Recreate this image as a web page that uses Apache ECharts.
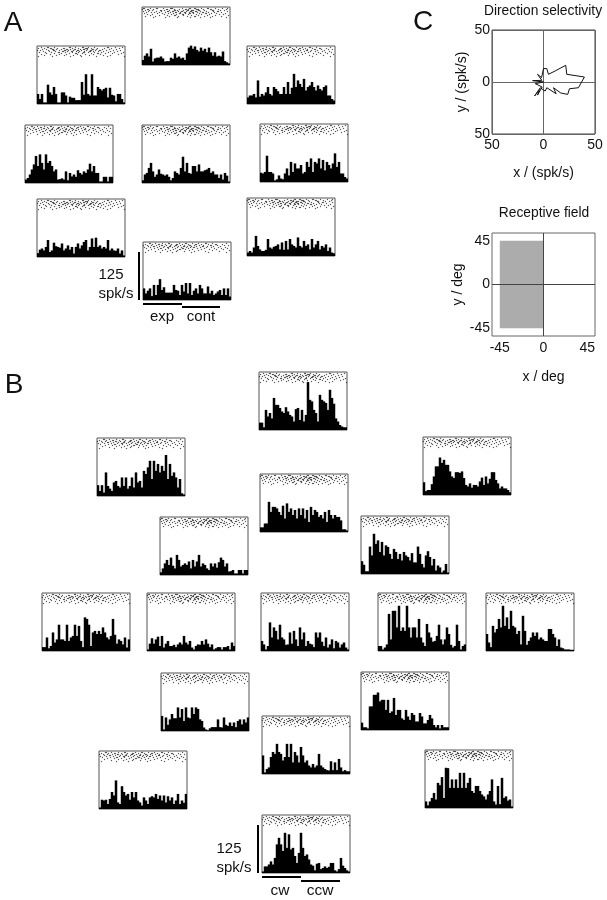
<!DOCTYPE html>
<html><head><meta charset="utf-8">
<script src="https://cdn.jsdelivr.net/npm/echarts@6/dist/echarts.min.js"></script>
<style>html,body{margin:0;background:#fff}#c{width:607px;height:900px}</style></head>
<body><div id="c"></div>
<script>
// PSTH bin values in spk/s, 44 bins per panel.
const aTop=[13,24,30,22,42,9,17,19,19,22,17,9,10,10,19,16,30,19,22,17,19,13,30,45,50,42,48,39,35,45,37,42,33,45,33,24,33,22,24,22,35,10,7,4];
const aUpL=[26,13,26,4,4,50,30,24,44,26,4,4,30,30,22,4,19,16,16,10,10,10,57,24,77,26,22,77,22,22,44,39,35,39,42,17,42,24,22,7,26,26,13,4];
const aUpR=[17,22,22,26,17,61,19,26,22,30,44,26,22,44,39,33,26,26,44,26,57,26,42,78,44,61,52,44,65,35,44,48,57,44,35,48,39,35,44,48,22,22,13,9];
const aMidL=[9,13,22,35,48,70,44,74,52,35,74,52,57,44,30,35,9,10,12,9,30,7,26,17,22,16,33,26,22,30,26,35,50,30,44,26,26,4,4,16,16,4,16,16];
const aMidC=[7,22,26,39,52,30,16,22,35,24,22,19,22,16,7,13,30,26,22,39,68,30,52,26,24,44,44,30,48,30,30,33,35,39,26,30,22,22,13,22,9,26,19,4];
const aMidR=[24,22,26,68,26,26,22,4,7,17,9,7,22,35,17,52,26,48,35,35,44,22,26,52,39,61,26,52,48,61,35,57,30,52,44,35,48,74,39,52,22,22,13,9];
const aLowL=[10,19,22,17,26,44,13,17,37,28,26,24,35,17,22,30,19,26,9,26,35,22,30,39,44,17,26,48,26,50,26,30,22,26,22,44,17,22,17,16,22,9,17,4];
const aLowR=[9,13,9,22,52,26,17,13,13,16,44,22,19,24,26,30,17,35,16,39,17,44,30,26,22,48,26,22,39,26,30,17,44,22,30,39,17,26,22,30,13,22,9,7];
const aBot=[30,17,24,30,10,39,13,39,54,26,33,19,19,19,19,39,26,24,13,39,22,44,17,44,13,24,30,17,39,30,17,17,35,17,24,13,17,22,26,13,30,13,30,9];
const bTop=[19,19,7,52,35,44,30,83,65,65,57,48,44,59,48,39,35,22,54,57,26,52,22,39,124,78,74,52,44,22,91,78,74,70,52,104,83,68,30,22,13,9,7,7];
const bUpL=[28,13,28,9,61,26,19,13,35,39,26,22,48,26,48,19,26,48,22,61,35,39,22,65,57,74,91,44,91,65,83,61,78,65,106,44,83,52,61,48,22,44,7,4];
const bUpC=[12,12,22,22,78,52,65,65,61,52,44,68,35,74,52,61,44,57,35,61,44,61,35,57,26,65,44,57,52,39,44,35,52,26,57,44,35,44,39,39,30,7,7,4];
const bInL=[7,17,30,39,26,45,24,17,52,39,22,26,30,26,35,17,39,22,35,52,22,30,26,17,13,30,22,30,19,33,45,39,22,30,9,10,13,4,4,13,13,4,13,13];
const bUpR=[33,10,13,13,28,48,74,74,97,83,91,78,78,61,48,44,59,59,57,61,44,26,22,30,19,26,26,22,35,45,26,48,30,42,59,59,39,30,17,22,17,17,13,7];
const bInR=[33,24,7,7,71,48,104,78,87,57,83,48,74,70,52,39,65,57,39,52,35,57,48,44,35,54,30,30,71,52,26,17,48,59,44,22,39,9,22,17,4,9,26,4];
const bRow1=[10,10,35,7,13,48,22,30,68,30,30,26,68,26,35,39,68,39,65,26,10,87,83,68,13,48,52,44,52,44,61,48,35,30,39,83,42,19,30,26,17,35,9,30];
const bRow2=[4,19,33,19,30,37,13,39,9,19,26,13,13,16,10,17,22,17,39,22,17,26,9,4,13,17,16,26,17,30,19,10,17,4,7,10,10,4,10,10,13,4,22,13];
const bRow3=[26,17,4,13,74,35,61,52,30,68,35,30,16,17,48,19,52,30,13,61,30,48,13,26,19,17,10,48,35,48,24,13,35,9,17,30,7,26,22,9,17,22,9,4];
const bRow4=[13,13,4,9,17,96,30,104,104,61,117,52,61,52,117,61,35,61,61,35,83,35,22,13,70,48,35,24,26,39,68,30,17,30,61,44,16,9,13,68,26,4,13,17];
const bRow5=[44,22,10,65,48,57,83,61,117,65,87,57,104,65,61,44,52,17,91,52,16,26,35,48,39,48,30,35,30,26,26,57,57,44,35,13,30,9,7,4,4,4,3,3];
const bLowL=[39,4,35,16,30,44,33,33,61,35,57,26,61,35,33,61,44,61,57,30,26,9,4,2,7,10,10,10,30,10,9,35,16,13,22,13,22,10,26,30,17,30,22,35];
const bLowR=[19,7,7,4,61,61,91,91,97,74,78,78,52,78,44,48,83,39,52,52,30,26,52,35,26,44,39,22,22,44,35,17,17,26,39,30,13,7,13,4,13,7,7,7];
const bLowC=[48,4,13,17,44,57,52,78,57,52,35,44,78,44,78,30,57,48,30,70,48,30,35,22,17,26,17,22,52,22,17,13,10,9,33,10,30,10,39,17,7,10,7,7];
const bFarL=[4,24,22,24,13,26,44,35,74,17,13,59,44,35,39,24,44,30,44,22,17,9,30,22,13,30,33,30,39,26,35,22,35,17,33,22,30,13,22,39,13,22,16,39];
const bFarR=[17,7,17,26,39,22,65,59,80,26,104,103,52,74,52,74,52,91,52,91,52,65,78,44,39,57,57,44,35,30,22,35,44,74,17,9,57,10,78,26,30,19,22,4];
const bBot=[4,17,17,22,30,22,39,74,91,74,57,104,65,100,61,65,44,26,52,104,65,44,48,35,22,19,7,24,26,10,13,17,13,16,26,26,7,4,10,39,19,13,7,4];

// Spike rasters: individual dots cannot be read at this resolution, so these are
// hand-typed approximations of the speckle (one list of times per trial row), shared between panels.
const rasterA=[
 [2,3,9,15,16,22,29,30,31,41,48,49,53,54,60,66,67,74,81,86],
 [1,6,7,12,25,26,33,38,44,45,47,55,56,57,62,69,70,77,85],
 [4,8,11,19,20,23,28,33,34,36,42,46,47,50,51,52,57,58,63,71,72,79,83],
 [2,7,15,20,26,27,31,32,37,40,41,45,49,50,54,55,59,65,72,76,77,86],
 [5,10,13,18,24,29,34,35,39,43,44,48,51,52,56,61,62,67,73,80],
 [3,16,21,27,32,38,39,44,48,49,52,58,64,65,70,75,84],
 [6,11,23,30,35,41,42,47,55,60,68,78,82],
 [9,18,26,33,34,42,50,57,66,74,87],
 [4,14,28,37,46,53,54,63,71,80],
 [12,24,36,49,59,69,85]];
const rasterB=[
 [5,11,12,18,33,34,39,46,47,52,58,71,72,79,86],
 [2,8,14,15,21,27,28,36,42,49,50,51,55,61,68,75,83],
 [6,10,16,17,20,25,30,31,34,38,39,44,47,48,51,56,57,60,66,73,80],
 [1,4,12,17,18,23,28,29,32,37,41,42,45,50,54,55,59,63,64,70,77,84],
 [7,13,19,26,27,31,35,36,40,43,48,53,54,57,62,67,74,81],
 [3,9,15,22,23,29,36,42,47,48,52,58,65,72,78,87],
 [10,18,25,33,39,40,46,55,61,62,69,76,85],
 [5,14,23,30,41,49,57,64,82],
 [8,20,28,37,44,53,67,74],
 [2,16,34,45,60,71,88]];
const rasterC=[
 [7,8,13,20,26,27,37,43,44,50,56,63,64,70,84],
 [3,10,16,17,23,29,34,35,40,46,53,54,59,66,73,74,80],
 [1,5,9,14,19,20,24,28,33,34,38,42,47,48,52,57,61,68,69,75,82,86],
 [6,11,12,17,22,27,28,32,36,41,42,45,49,54,60,61,65,71,78],
 [2,8,15,21,25,26,30,35,39,44,48,51,52,58,64,69,76,83],
 [4,12,18,19,26,33,40,41,46,55,62,72,79,85],
 [9,16,23,31,37,38,43,50,59,67,74,81],
 [6,20,28,35,47,56,70,87],
 [13,25,34,42,52,63,77],
 [3,18,30,49,66,84]];

// Panel C data
const dirX=[0,-10.6,-1.6,-5.8,-1.9,0,3.2,4.8,11.3,21.6,22.6,39.7,33.9,25.2,23.5,16.8,9.7,12.3,3.2,1.6,-3.2,-8.7,-3.9,-5.8,-1.3,-8,0];
const dirY=[0,1.3,1.6,7.4,4.2,12.9,12.9,7.4,10.6,16.1,7.4,4.8,-5.5,-6.5,-11.9,-10.6,-5.5,-11.3,-5.5,-8.7,-5.5,-13.5,-7.4,-12.6,-4.8,-1.6,0];
const rfX=[-45,0];
const rfY=[-45,45];
const rfTicks=[-45,0,45];

// layout: [values, left, top, raster]
const panelW=88,panelH=58,font='"Liberation Sans"';
const panels=[
 [aTop,142,7,rasterA],[aUpL,37,46,rasterB],[aUpR,247,46,rasterC],
 [aMidL,25,125,rasterC],[aMidC,142,125,rasterA],[aMidR,260,124,rasterB],
 [aLowL,37,199,rasterB],[aLowR,247,198,rasterA],[aBot,143,242,rasterC],
 [bTop,259,372,rasterB],[bUpL,97,438,rasterC],[bUpC,260,474,rasterA],
 [bInL,160,517,rasterA],[bUpR,423,437,rasterB],[bInR,361,516,rasterC],
 [bRow1,42,593,rasterB],[bRow2,147,593,rasterA],[bRow3,261,593,rasterC],
 [bRow4,378,593,rasterA],[bRow5,486,593,rasterB],
 [bLowL,161,673,rasterC],[bLowR,361,672,rasterA],[bLowC,262,716,rasterB],
 [bFarL,99,751,rasterC],[bFarR,425,750,rasterA],[bBot,262,815,rasterB]
];
const bins=aTop.map((_,i)=>i);
const grid=[],xAxis=[],yAxis=[],series=[];
panels.forEach((p,i)=>{
 grid.push({left:p[1],top:p[2],width:panelW,height:panelH,show:true,borderColor:'#555',borderWidth:1,backgroundColor:'#fff'});
 xAxis.push({gridIndex:i,type:'category',data:bins,show:false,boundaryGap:true});
 xAxis.push({gridIndex:i,type:'value',min:0.5,max:panelW+0.5,show:false});
 yAxis.push({gridIndex:i,type:'value',min:0,max:150,show:false});
 yAxis.push({gridIndex:i,type:'value',min:-0.5,max:57.5,inverse:true,show:false});
 series.push({type:'bar',xAxisIndex:2*i,yAxisIndex:2*i,data:p[0],barWidth:2.5,barGap:'0%',itemStyle:{color:'#000'},silent:true});
 const dots=[];p[3].forEach((row,r)=>row.forEach(t=>dots.push([t,r+1])));
 series.push({type:'scatter',xAxisIndex:2*i+1,yAxisIndex:2*i+1,data:dots,symbol:'rect',symbolSize:1.2,itemStyle:{color:'#222',opacity:0.75},silent:true});
});
// Panel C grids
const cBase=panels.length*2;
const cText={fontFamily:font,fontSize:14,color:'#111'};
const nameStyle={fontFamily:font,fontSize:14,color:'#111'};
grid.push({left:492,top:30,width:103,height:104,show:true,borderColor:'#444',borderWidth:1});
grid.push({left:492,top:233,width:103,height:103,show:true,borderColor:'#666',borderWidth:1});
xAxis.push({gridIndex:panels.length,type:'value',min:-50,max:50,interval:50,axisLine:{show:false,onZero:false},axisTick:{show:false},
 axisLabel:{...cText,margin:4,formatter:v=>String(Math.abs(v))},splitLine:{show:true,lineStyle:{color:'#666',width:1}},
 name:'x / (spk/s)',nameLocation:'middle',nameGap:32,nameTextStyle:nameStyle});
yAxis.push({gridIndex:panels.length,type:'value',min:-50,max:50,interval:50,axisLine:{show:false,onZero:false},axisTick:{show:false},
 axisLabel:{...cText,margin:2,formatter:v=>String(Math.abs(v))},splitLine:{show:true,lineStyle:{color:'#666',width:1}},
 name:'y / (spk/s)',nameLocation:'middle',nameGap:23,nameTextStyle:nameStyle});
xAxis.push({gridIndex:panels.length+1,type:'value',min:-53,max:53,axisLine:{show:false,onZero:false},axisTick:{show:false},
 axisLabel:{...cText,margin:5,customValues:rfTicks},splitLine:{show:false},
 name:'x / deg',nameLocation:'middle',nameGap:34,nameTextStyle:nameStyle});
yAxis.push({gridIndex:panels.length+1,type:'value',min:-53,max:53,axisLine:{show:false,onZero:false},axisTick:{show:false},
 axisLabel:{...cText,margin:2,customValues:rfTicks},splitLine:{show:false},
 name:'y / deg',nameLocation:'middle',nameGap:27,nameTextStyle:nameStyle});
series.push({type:'line',xAxisIndex:cBase,yAxisIndex:cBase,data:dirX.map((x,i)=>[x,dirY[i]]),showSymbol:false,symbol:'none',
 lineStyle:{color:'#111',width:1},silent:true,z:5});
series.push({type:'line',xAxisIndex:cBase+1,yAxisIndex:cBase+1,data:[[rfX[0],rfY[0]],[rfX[1],rfY[1]]],symbol:'none',lineStyle:{opacity:0},silent:true,
 markArea:{silent:true,itemStyle:{color:'#acacac'},data:[[{coord:[rfX[0],rfY[0]]},{coord:[rfX[1],rfY[1]]}]]},
 markLine:{silent:true,symbol:'none',label:{show:false},lineStyle:{color:'#444',width:1,type:'solid'},data:[{xAxis:0},{yAxis:0}]}});

// annotations
const txt=(text,x,y,size,align)=>({type:'text',silent:true,z:50,style:{text,x,y,fill:'#111',font:size+'px '+font,textAlign:align||'center',textVerticalAlign:'middle'}});
const bar=(x,y,w,h)=>({type:'rect',silent:true,z:50,shape:{x,y,width:w,height:h},style:{fill:'#000'}});
const graphic=[
 txt('A',13,23,28),txt('B',14,385,28),txt('C',423,22,28),
 txt('Direction selectivity',543,11,13.8),txt('Receptive field',544,213,13.8),
 bar(138,252,2,48),txt('125',111,275,15),txt('spk/s',116,294,15),
 bar(143,303,39,2),bar(182,306,38,2),txt('exp',162,317,15),txt('cont',201,317,15),
 bar(257,825,2,48),txt('125',229,849,15),txt('spk/s',234,868,15),
 bar(262,876,39,2),bar(301,880,39,2),txt('cw',280,891,15.5),txt('ccw',320,891,15.5)
];
const chart=echarts.init(document.getElementById('c'),null,{renderer:'canvas'});
chart.setOption({animation:false,grid,xAxis,yAxis,series,graphic});
</script></body></html>
